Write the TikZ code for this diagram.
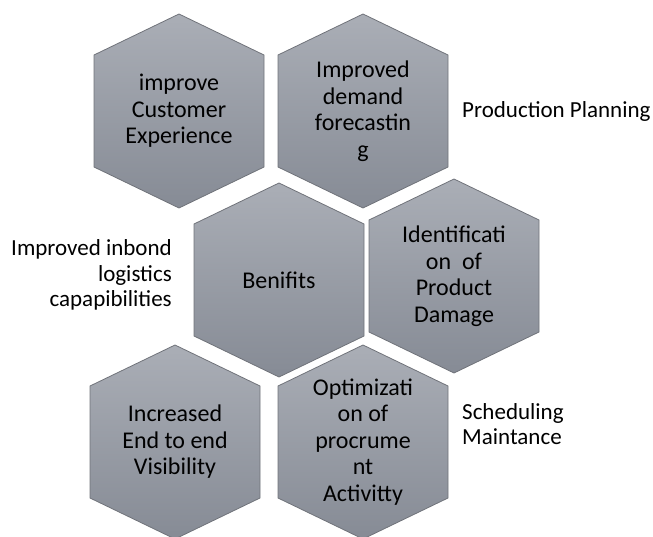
\documentclass[tikz,border=0pt]{standalone}
\usepackage{fontspec}
\setmainfont{Carlito}
\usepackage{tikz}

\definecolor{hextop}{RGB}{170,174,182}
\definecolor{hexbottom}{RGB}{134,139,149}
\definecolor{hexline}{RGB}{112,115,122}

\begin{document}
\begin{tikzpicture}[x=1pt, y=1pt,
  hexa/.style={draw=hexline, line width=0.8pt, top color=hextop, bottom color=hexbottom},
  hextext/.style={align=center, font=\fontsize{24}{26.5}\selectfont, inner sep=0pt},
  sidetext/.style={font=\fontsize{23}{25.5}\selectfont, inner sep=0pt}]

\useasboundingbox (0,0) rectangle (653,536);

% centres of the six grey hexagons
\path
(179,425) coordinate (cust)
(363,425) coordinate (demand)
(279,256) coordinate (benefit)
(454,260) coordinate (damage)
(175,94) coordinate (visible)
(363,94) coordinate (procure);

% grey hexagons, point up
\foreach \c in {cust, demand, benefit, damage, visible, procure}
  {
    \draw[hexa, shift={(\c)}]
      (0,97) -- (85,56) -- (85,-56) -- (0,-97) -- (-85,-56) -- (-85,56) -- cycle;
  }

% texts inside
\node[hextext] (custtxt) at (cust) {improve\\Customer\\Experience};
\node[hextext] (demandtxt) at (demand) {Improved\\demand\\forecastin\\g};
\node[hextext] (benefittxt) at (benefit) {Benifits};
\node[hextext] (damagetxt) at (damage) {Identificati\\on\ \ of\\Product\\Damage};
\node[hextext] (visibletxt) at (visible) {Increased\\End to end\\Visibility};
\node[hextext] (procuretxt) at (procure) {Optimizati\\on of\\procrume\\nt\\Activitty};

% side labels
\node[sidetext, anchor=west] (planning) at (462,425) {Production Planning};
\node[sidetext, anchor=east, align=right] (inbond) at (172,261)
  {Improved inbond\\logistics\\capapibilities};
\node[sidetext, anchor=west, align=left] (schedule) at (462,112)
  {Scheduling\\Maintance};

\end{tikzpicture}
\end{document}
